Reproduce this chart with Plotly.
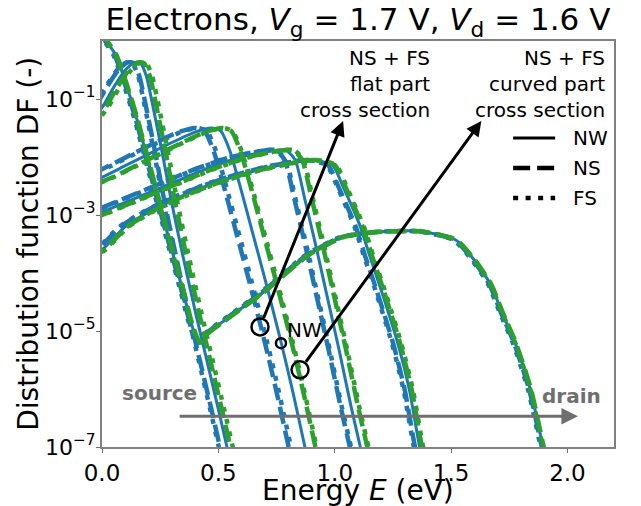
import plotly.graph_objects as go

BLUE = "#1f77b4"
GREEN = "#2ca02c"
GREY = "#6f6f6f"
FONT = "DejaVu Sans"

# Distribution functions along the channel (nanowire reference), energy in eV,
# values stored as log10(DF). Curves ordered from source side to drain side.
E_C1 = [-0.06, 0.0, 0.05, 0.10, 0.14, 0.165, 0.19, 0.22, 0.26, 0.30, 0.35, 0.40, 0.45, 0.50, 0.537, 0.58]
LG_C1 = [-1.45, -1.15, -0.8, -0.5, -0.37, -0.38, -0.6, -1.15, -1.95, -2.8, -3.75, -4.65, -5.5, -6.35, -7.0, -7.7]

E_C2 = [-0.06, 0.0, 0.10, 0.20, 0.30, 0.40, 0.47, 0.51, 0.55, 0.60, 0.65, 0.70, 0.77, 0.82, 0.872, 0.91]
LG_C2 = [-2.45, -2.35, -2.15, -1.95, -1.75, -1.57, -1.5, -1.55, -1.9, -2.6, -3.35, -4.1, -5.2, -6.05, -7.0, -7.7]

E_C3 = [-0.06, 0.0, 0.15, 0.30, 0.45, 0.60, 0.72, 0.79, 0.83, 0.87, 0.92, 0.97, 1.02, 1.07, 1.11, 1.15]
LG_C3 = [-3.05, -2.95, -2.7, -2.45, -2.2, -2.0, -1.9, -1.88, -2.05, -2.7, -3.55, -4.45, -5.35, -6.3, -7.0, -7.7]

E_C4 = [-0.06, 0.0, 0.10, 0.20, 0.30, 0.45, 0.60, 0.75, 0.90, 0.99, 1.04, 1.11, 1.15, 1.20, 1.27, 1.32, 1.365, 1.40]
LG_C4 = [-3.75, -3.6, -3.2, -2.95, -2.75, -2.5, -2.3, -2.15, -2.05, -2.14, -2.55, -3.2, -3.7, -4.3, -5.2, -6.0, -7.0, -7.6]

E_C0 = [0.0, 0.02, 0.06, 0.10, 0.15, 0.20, 0.25, 0.30, 0.35, 0.39, 0.42, 0.45, 0.55, 0.69, 0.885, 1.035,
        1.195, 1.365, 1.52, 1.60, 1.67, 1.72, 1.775, 1.84, 1.895, 1.93]
LG_C0 = [0.15, 0.0, -0.25, -0.7, -1.35, -2.1, -2.85, -3.6, -4.35, -4.95, -5.2, -5.05, -4.75, -4.34, -3.69, -3.38,
         -3.29, -3.28, -3.43, -3.78, -4.2, -4.69, -5.2, -6.0, -7.0, -7.6]

CURVES_E = [E_C0, E_C1, E_C2, E_C3, E_C4]
CURVES_LG = [LG_C0, LG_C1, LG_C2, LG_C3, LG_C4]

# Energy offsets (eV) of the sheet geometries relative to the nanowire, per curve C0..C4
SHIFT_NS_FLAT = [-0.005, -0.03, -0.07, -0.045, -0.02]
SHIFT_FS_FLAT = [-0.01, -0.035, -0.06, -0.04, -0.025]
SHIFT_NS_CURVED = [0.003, 0.015, 0.045, 0.03, 0.01]
SHIFT_FS_CURVED = [0.0, 0.025, 0.05, 0.035, 0.015]

DASH_NS = "17px,7px"
DASH_FS = "5px,7.5px"

VARIANTS = [
    # (shift list, colour, dash, width)
    (None, BLUE, "solid", 3),
    (SHIFT_NS_FLAT, BLUE, DASH_NS, 4.5),
    (SHIFT_FS_FLAT, BLUE, DASH_FS, 4.5),
    (SHIFT_NS_CURVED, GREEN, DASH_NS, 4.5),
    (SHIFT_FS_CURVED, GREEN, DASH_FS, 4.5),
]

# Marked cross-section points (E in eV, log10 DF)
MARK_FLAT = (0.679, -4.93)
MARK_NW = (0.769, -5.21)
MARK_CURVED = (0.851, -5.67)
TEXT_FLAT_TIP = (1.036, -1.38)
TEXT_CURVED_TIP = (1.63, -1.38)

fig = go.Figure()

for shifts, colour, dash, width in VARIANTS:
    for k, (ev, lg) in enumerate(zip(CURVES_E, CURVES_LG)):
        dx = 0.0 if shifts is None else shifts[k]
        fig.add_trace(go.Scatter(
            x=[e + dx for e in ev],
            y=[10 ** v for v in lg],
            mode="lines",
            line=dict(color=colour, width=width, dash=dash, shape="spline", smoothing=0.6),
            showlegend=False,
            hoverinfo="skip",
        ))

# circles marking the cross-section points
for (mx, my), size in [(MARK_FLAT, 17), (MARK_NW, 10), (MARK_CURVED, 17)]:
    fig.add_trace(go.Scatter(
        x=[mx], y=[10 ** my], mode="markers",
        marker=dict(symbol="circle-open", size=size, color="black", line=dict(width=2.5, color="black")),
        showlegend=False, hoverinfo="skip",
    ))

# plot area: 512 x 406 px, bottom edge at y = 447 px
X_TITLE_Y = -(490 - 447) / 406

annotations = [
    dict(x=TEXT_FLAT_TIP[0], y=TEXT_FLAT_TIP[1], ax=MARK_FLAT[0], ay=MARK_FLAT[1],
         xref="x", yref="y", axref="x", ayref="y", text="", showarrow=True,
         arrowhead=2, arrowsize=1, arrowwidth=3, arrowcolor="black", startstandoff=8),
    dict(x=TEXT_CURVED_TIP[0], y=TEXT_CURVED_TIP[1], ax=MARK_CURVED[0], ay=MARK_CURVED[1],
         xref="x", yref="y", axref="x", ayref="y", text="", showarrow=True,
         arrowhead=2, arrowsize=1, arrowwidth=3, arrowcolor="black", startstandoff=8),
    dict(x=2.045, y=-6.47, ax=0.327, ay=-6.47, xref="x", yref="y", axref="x", ayref="y",
         text="", showarrow=True, arrowhead=2, arrowsize=1.1, arrowwidth=3, arrowcolor=GREY),
    dict(x=0.249, y=-6.07, xref="x", yref="y", text="<b>source</b>", showarrow=False,
         font=dict(family=FONT, size=20, color=GREY)),
    dict(x=2.016, y=-6.12, xref="x", yref="y", text="<b>drain</b>", showarrow=False,
         font=dict(family=FONT, size=20, color=GREY)),
    dict(x=0.868, y=-4.98, xref="x", yref="y", text="NW", showarrow=False,
         font=dict(family=FONT, size=20, color="black")),
    # axis titles
    dict(x=0.5, y=X_TITLE_Y, xref="paper", yref="paper", text="Energy <i>E</i> (eV)", showarrow=False,
         xanchor="center", yanchor="middle", font=dict(family=FONT, size=28, color="black")),
    dict(x=-0.145, y=0.5, xref="paper", yref="paper", text="Distribution function DF (-)", showarrow=False,
         textangle=-90, xanchor="center", yanchor="middle", font=dict(family=FONT, size=28, color="black")),
]

# three-line captions above the arrows, right-aligned
CAPTION_FLAT = ["NS + FS", "flat part", "cross section"]
CAPTION_CURVED = ["NS + FS", "curved part", "cross section"]
CAPTION_ROWS = [0.958, 0.894, 0.830]
for cx, lines in [(0.6445, CAPTION_FLAT), (0.986, CAPTION_CURVED)]:
    for cy, line in zip(CAPTION_ROWS, lines):
        annotations.append(dict(x=cx, y=cy, xref="paper", yref="paper", text=line, showarrow=False,
                                xanchor="right", yanchor="middle",
                                font=dict(family=FONT, size=20, color="black")))

# line-style key
shapes = []
KEY = [("NW", "solid", 3), ("NS", DASH_NS, 4.5), ("FS", DASH_FS, 4.5)]
KEY_ROWS = [0.761, 0.687, 0.613]
for (name, dash, width), yk in zip(KEY, KEY_ROWS):
    shapes.append(dict(type="line", xref="paper", yref="paper", x0=0.803, x1=0.885, y0=yk, y1=yk,
                       line=dict(color="black", width=width, dash=dash)))
    annotations.append(dict(x=0.916, y=yk, xref="paper", yref="paper", text=name, showarrow=False,
                            xanchor="left", yanchor="middle",
                            font=dict(family=FONT, size=20, color="black")))

fig.update_layout(
    width=641, height=506,
    margin=dict(l=102, r=27, t=41, b=59),
    paper_bgcolor="white", plot_bgcolor="white",
    font=dict(family=FONT, size=20, color="black"),
    title=dict(text="Electrons, <i>V</i><sub>g</sub> = 1.7 V, <i>V</i><sub>d</sub> = 1.6 V",
               x=0.5585, xanchor="center", y=0.962, yanchor="middle",
               font=dict(family=FONT, size=31, color="black")),
    annotations=annotations,
    shapes=shapes,
    showlegend=False,
)

fig.update_xaxes(
    range=[0, 2.2], tickvals=[0, 0.5, 1.0, 1.5, 2.0], ticktext=["0.0", "0.5", "1.0", "1.5", "2.0"],
    ticks="outside", ticklen=4, tickwidth=1, tickcolor=GREY,
    showline=True, linecolor="#808080", linewidth=2, mirror=True,
    showgrid=False, zeroline=False, automargin=False,
    tickfont=dict(family=FONT, size=23, color="black"),
)
fig.update_yaxes(
    type="log", range=[-7, 0],
    tickvals=[1e-7, 1e-5, 1e-3, 1e-1],
    ticktext=["10<sup>−7</sup>", "10<sup>−5</sup>", "10<sup>−3</sup>", "10<sup>−1</sup>"],
    ticks="outside", ticklen=4, tickwidth=1, tickcolor=GREY,
    showline=True, linecolor="#808080", linewidth=2, mirror=True,
    showgrid=False, zeroline=False, automargin=False, ticklabelstandoff=-4,
    tickfont=dict(family=FONT, size=22, color="black"),
)

fig.write_html("out.html")
